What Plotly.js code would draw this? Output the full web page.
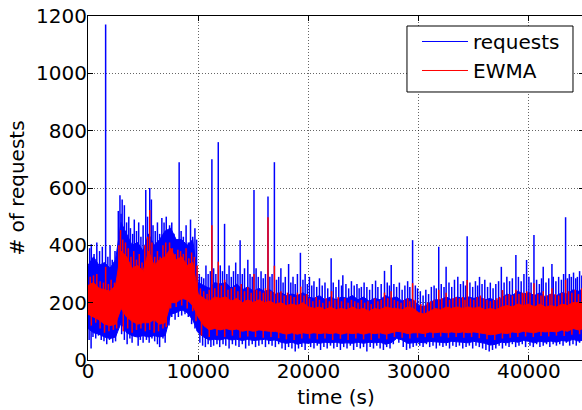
<!DOCTYPE html>
<html>
<head>
<meta charset="utf-8">
<script src="https://cdn.plot.ly/plotly-3.0.1.min.js"></script>
<style>
html,body{margin:0;padding:0;overflow:hidden;background:#fff;width:582px;height:410px;}
#chart{width:588px;height:410px;}
</style>
</head>
<body>
<div id="chart"></div>
<script>
// time bins (s), every 500 s
const time = [0,500,1000,1500,2000,2500,3000,3500,4000,4500,5000,5500,6000,6500,7000,7500,8000,8500,9000,9500,
10000,10500,11000,11500,12000,12500,13000,13500,14000,14500,15000,15500,16000,16500,17000,17500,18000,18500,19000,19500,
20000,20500,21000,21500,22000,22500,23000,23500,24000,24500,25000,25500,26000,26500,27000,27500,28000,28500,29000,29500,
30000,30500,31000,31500,32000,32500,33000,33500,34000,34500,35000,35500,36000,36500,37000,37500,38000,38500,39000,39500,
40000,40500,41000,41500,42000,42500,43000,43500,44000,44500,45000];

// requests: dense core of the band (upper / lower edge per bin)
const requestsHigh = [330,360,330,340,320,350,480,440,400,410,380,440,400,420,450,460,420,420,400,420,
270,260,250,270,265,270,250,265,245,255,240,250,240,245,230,235,225,230,225,235,
220,215,225,210,220,210,220,215,225,210,220,205,215,210,225,215,220,205,215,210,
190,185,200,210,210,220,210,220,215,220,215,220,210,215,205,215,230,225,240,230,
235,225,235,220,230,225,235,230,245,240,250];
const requestsLow = [110,95,90,80,75,80,130,95,85,80,85,80,85,80,85,160,165,175,165,140,
95,80,70,72,70,75,70,72,68,72,68,70,72,68,70,62,58,62,55,60,
58,62,58,62,60,62,58,60,58,62,58,62,60,62,55,60,75,70,58,60,
62,60,65,62,62,60,65,62,62,60,65,62,58,52,55,62,60,65,62,68,
65,60,65,62,66,62,68,65,72,66,70];

// requests: upward excursions (time, value)
const requestsPeakTime = [150,300,550,800,1050,1300,1600,1800,2000,2200,2450,
2750,2900,3000,3100,3300,3500,3700,3850,4050,4200,4400,4600,4800,5000,
5240,5400,5600,5750,5900,6100,6300,6500,6700,6900,7100,
7400,7600,7800,8000,8270,8450,8650,8900,9100,9300,9500,9700,9850,
10100,10300,10500,10700,10900,11100,11240,11400,11600,11820,12000,12200,12390,12600,12800,13000,13200,13400,13600,13800,14000,14200,14500,14700,14900,15060,15250,15450,15700,15900,16100,16330,16500,16700,16910,17100,17300,17500,17700,17900,18200,18400,18600,18800,19000,19270,19500,19700,19900,
20090,20300,20500,20750,21000,21250,21500,21750,22060,22250,22500,22750,23000,23120,23400,23650,23900,24150,24400,24600,24800,25050,25300,25550,25800,26090,26300,26600,26900,27150,27350,27510,27750,28000,28250,28500,28750,29000,29200,29450,29700,29900,
30150,30400,30650,30900,31150,31400,31600,31820,32050,32300,32490,32750,33000,33250,33550,33800,34050,34250,34400,34650,34900,35150,35350,35520,35750,36000,36250,36500,36750,37000,37250,37500,37750,38000,38250,38500,38820,39050,39300,39550,39790,
40000,40200,40460,40700,40950,41150,41300,41550,41800,42090,42210,42450,42700,42950,43150,43330,43500,43670,43850,44050,44250,44400,44600,44800];
const requestsPeakValue = [390,404,370,410,380,395,1170,360,400,350,380,
520,575,510,560,540,480,500,460,440,490,450,480,430,470,
593,500,600,560,470,450,480,440,495,480,500,
470,480,440,420,690,450,430,470,410,490,430,460,420,
300,290,285,330,300,310,700,320,300,760,330,310,475,300,330,290,310,340,300,418,300,320,350,300,290,593,320,290,310,285,300,570,290,300,690,280,290,320,270,290,335,270,290,265,300,374,280,300,265,
290,260,275,255,285,260,270,250,355,270,255,280,260,296,265,250,275,260,265,250,255,270,255,245,265,277,255,265,311,270,260,331,265,255,270,245,260,275,255,418,260,250,
240,225,245,230,255,260,250,395,265,255,325,270,255,280,290,265,275,260,432,270,255,275,260,290,265,280,255,270,250,265,275,325,270,290,275,285,366,290,275,300,349,
290,270,436,280,265,285,325,270,285,335,290,275,290,280,300,498,285,300,290,305,285,290,310,295];

// requests: downward excursions (time, value)
const requestsDipTime = [100,280,450,700,950,1200,1450,1700,1950,2250,2500,
2800,3050,3300,3550,3800,4000,4300,4550,4750,5000,5300,5550,5800,6050,6300,6500,6800,7000,
7350,7600,7900,8200,8500,8800,9100,9400,9700,9900,
10150,10400,10650,10900,11150,11400,11700,11950,12250,12500,12800,13100,13400,13700,14000,14300,14600,14900,15200,15500,15800,16100,16400,16700,17000,17300,17600,17900,18200,18500,18800,19100,19400,19700,
20200,20500,20800,21100,21400,21700,22000,22300,22600,22900,23200,23500,23800,24100,24400,24700,25000,25300,25600,25900,26200,26500,26800,27100,27400,27700,28200,28600,28900,29200,29500,29800,
30100,30400,30700,31000,31300,31600,31900,32200,32500,32800,33100,33400,33700,34000,34300,34600,34900,35200,35500,35800,36100,36400,36700,37000,37300,37600,37900,38200,38500,38800,39100,39400,39700,
40100,40400,40700,41000,41300,41600,41900,42200,42500,42800,43100,43400,43700,44000,44300,44600,44900];
const requestsDipValue = [70,40,80,75,85,70,65,55,70,60,65,
130,90,70,55,75,60,80,50,70,60,70,60,75,65,55,45,75,60,
120,150,140,150,155,160,150,125,110,100,
60,50,45,55,45,50,55,45,55,50,40,55,50,45,55,40,50,55,45,50,55,45,55,50,45,55,40,35,45,40,30,40,45,35,
45,40,50,35,45,40,50,40,45,35,45,40,50,35,45,40,45,30,45,40,50,40,35,45,40,55,60,45,35,40,45,50,
50,45,55,45,50,40,50,45,50,40,50,45,50,40,45,50,40,50,45,40,35,30,35,40,50,40,50,45,55,45,50,55,45,
50,45,55,45,50,55,45,55,50,55,50,60,50,55,50,60,55];

// EWMA: dense core of the band
const ewmaHigh = [260,270,250,245,240,260,380,360,320,330,310,380,330,350,360,390,350,360,330,340,
230,215,205,220,215,220,205,215,200,210,200,210,200,205,195,200,190,195,190,200,
185,180,185,175,185,175,180,175,185,175,180,170,180,175,185,180,180,175,185,180,
165,160,170,180,175,185,180,185,180,185,180,185,175,180,175,185,190,185,195,190,
195,185,195,185,190,185,195,190,200,200,205];
const ewmaLow = [160,150,140,125,120,125,180,150,135,125,130,130,140,125,130,200,200,215,210,190,
150,120,105,110,105,110,105,108,100,105,100,105,102,100,100,95,90,95,90,95,
92,95,92,95,92,95,90,95,92,95,90,95,92,95,90,95,100,98,92,95,
95,92,98,95,98,95,98,95,98,95,98,95,92,88,90,95,92,98,95,100,
98,95,100,98,100,98,105,100,110,105,110];

// EWMA: upward excursions
const ewmaPeakTime = [200,500,800,1100,1400,1600,1850,2100,2400,
2800,2950,3150,3400,3650,3900,4150,4400,4650,4900,5150,5400,5600,5800,6050,6300,6550,6800,7050,
7400,7650,7900,8150,8400,8650,8900,9150,9400,9650,9900,
10200,10500,10800,11000,11240,11500,11820,12100,12400,12700,13000,13300,13600,13900,14200,14500,14800,15060,15300,15600,15900,16100,16330,16600,16910,17200,17500,17800,18100,18400,18700,19000,19300,19600,19850,
20100,20400,20700,21000,21300,21600,21900,22100,22400,22700,23000,23300,23600,23900,24200,24500,24800,25100,25400,25700,26000,26300,26600,26900,27200,27500,27800,28100,28400,28700,29000,29200,29450,29700,
30200,30500,30800,31100,31400,31820,32100,32490,32800,33100,33400,33700,34000,34200,34400,34700,35000,35300,35600,35900,36200,36500,36800,37100,37350,37600,37900,38200,38500,38820,39100,39400,39580,39800,
40100,40460,40800,41100,41300,41600,41900,42090,42400,42700,43000,43330,43600,43900,44200,44500,44800];
const ewmaPeakValue = [290,295,300,275,270,325,265,280,270,
400,453,420,410,390,360,380,350,370,340,400,430,523,410,360,380,360,400,410,
410,390,370,385,380,370,390,355,375,360,330,
250,240,230,245,470,250,343,260,280,245,250,255,240,265,240,255,235,300,245,240,235,250,498,240,329,235,240,225,235,225,220,235,256,225,230,
215,205,220,210,200,215,205,240,210,220,205,215,200,210,205,200,210,200,205,195,215,205,210,235,215,240,210,205,200,210,215,205,268,210,
195,190,200,205,210,245,215,235,210,215,220,215,220,210,279,215,210,220,225,215,210,205,210,215,220,244,225,230,225,245,230,235,233,240,
235,268,230,225,240,225,230,250,230,225,235,280,240,235,245,230,250];

// EWMA: downward excursions
const ewmaDipTime = [300,700,1100,1500,1900,2300,2600,3200,3600,4000,4400,4800,5200,5600,6000,6400,6800,7100,7500,8000,8500,9000,9500,9800,
10300,11000,11700,12400,13100,13800,14500,15200,15900,16600,17300,18000,18700,19400,20100,20800,21500,22200,22900,23600,24300,25000,25700,26400,27100,27800,28500,29200,29900,
30600,31300,32000,32700,33400,34100,34800,35500,36200,36900,37600,38300,39000,39700,40400,41100,41800,42500,43200,43900,44600];
const ewmaDipValue = [120,130,110,95,100,105,110,100,110,95,105,110,100,105,95,100,110,115,180,185,190,180,170,135,
85,80,85,80,85,78,82,80,78,80,76,72,70,75,75,72,75,70,74,70,75,72,70,75,72,80,78,75,78,
80,78,82,78,80,78,80,76,72,70,75,78,80,82,80,84,82,85,84,88,90];

const xTicks = [0,10000,20000,30000,40000];
const yTicks = [0,200,400,600,800,1000,1200];

function band(lo, hi) {
  return {x: time.concat(time.slice().reverse()), y: hi.concat(lo.slice().reverse())};
}
// vertical strokes from the middle of the band out to each excursion value
function strokes(ts, vs, lo, hi) {
  const x = [], y = [];
  ts.forEach((t, i) => {
    const k = Math.min(time.length - 1, Math.round(t / 500));
    x.push(t, t, null);
    y.push((lo[k] + hi[k]) / 2, vs[i], null);
  });
  return {x, y};
}

const BLUE = '#0000ff', RED = '#ff0000';
const bb = band(requestsLow, requestsHigh);
const rb = band(ewmaLow, ewmaHigh);
const bpk = strokes(requestsPeakTime, requestsPeakValue, requestsLow, requestsHigh);
const bdp = strokes(requestsDipTime, requestsDipValue, requestsLow, requestsHigh);
const rpk = strokes(ewmaPeakTime, ewmaPeakValue, ewmaLow, ewmaHigh);
const rdp = strokes(ewmaDipTime, ewmaDipValue, ewmaLow, ewmaHigh);

const common = {mode: 'lines', showlegend: false, hoverinfo: 'skip'};
const traces = [
  Object.assign({x: bb.x, y: bb.y, fill: 'toself', fillcolor: BLUE, line: {color: BLUE, width: 1}}, common),
  Object.assign({x: bpk.x, y: bpk.y, line: {color: BLUE, width: 1.5}}, common),
  Object.assign({x: bdp.x, y: bdp.y, line: {color: BLUE, width: 1.5}}, common),
  Object.assign({x: rb.x, y: rb.y, fill: 'toself', fillcolor: RED, line: {color: RED, width: 1}}, common),
  Object.assign({x: rpk.x, y: rpk.y, line: {color: RED, width: 1.5}}, common),
  Object.assign({x: rdp.x, y: rdp.y, line: {color: RED, width: 1.5}}, common),
  {x: [null], y: [null], mode: 'lines', name: 'requests', line: {color: BLUE, width: 1}},
  {x: [null], y: [null], mode: 'lines', name: 'EWMA', line: {color: RED, width: 1}}
];

const font = {family: 'DejaVu Sans, sans-serif', size: 20, color: '#000'};
const axisCommon = {
  showline: true, linecolor: '#000', linewidth: 1, mirror: 'ticks',
  ticks: 'inside', ticklen: 5, tickcolor: '#000', tickwidth: 1,
  showgrid: true, gridcolor: '#000', gridwidth: 0.6, griddash: '1px,2px',
  zeroline: false, tickfont: font, tickformat: 'd', fixedrange: true
};

const layout = {
  width: 588, height: 410,
  margin: {l: 88, r: 4, t: 16, b: 50},
  paper_bgcolor: '#fff', plot_bgcolor: '#fff',
  font: font,
  showlegend: true,
  legend: {
    x: 0.6633, y: 0.9826, xanchor: 'left', yanchor: 'top',
    bgcolor: 'rgba(0,0,0,0)', borderwidth: 0, itemwidth: 46,
    font: {family: 'DejaVu Sans, sans-serif', size: 20, color: '#000'},
    traceorder: 'normal'
  },
  shapes: [{
    type: 'rect', xref: 'paper', yref: 'paper', layer: 'above',
    x0: 0.6431, x1: 0.9778, y0: 0.7791, y1: 0.9709,
    fillcolor: '#fff', line: {color: '#000', width: 1}
  }],
  xaxis: Object.assign({}, axisCommon, {
    range: [0, 45000], tickvals: xTicks, ticktext: xTicks.map(String),
    ticklabelstandoff: -7,
    title: {text: 'time (s)', font: font, standoff: 7}
  }),
  yaxis: Object.assign({}, axisCommon, {
    range: [0, 1200], tickvals: yTicks, ticktext: yTicks.map(String),
    ticklabelstandoff: -4,
    title: {text: '# of requests', font: font, standoff: 6}
  })
};

Plotly.newPlot('chart', traces, layout, {displayModeBar: false, staticPlot: true});
</script>
</body>
</html>
